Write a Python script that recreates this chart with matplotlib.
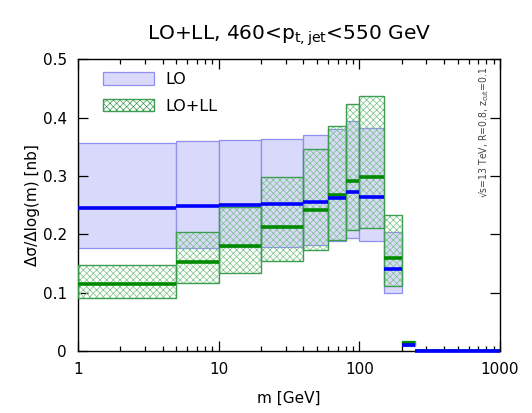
import numpy as np
import matplotlib
matplotlib.use("Agg")
import matplotlib.pyplot as plt
from matplotlib.patches import Patch
from matplotlib.ticker import FuncFormatter, LogLocator, MultipleLocator

# bin edges in m [GeV]
edges = [1, 5, 10, 20, 40, 60, 80, 100, 150, 200, 250, 1000]

# LO: central value and band
lo_mid = [0.246, 0.249, 0.250, 0.252, 0.256, 0.263, 0.273, 0.264, 0.140, 0.011, 0.0]
lo_lo = [0.176, 0.177, 0.178, 0.179, 0.181, 0.188, 0.194, 0.188, 0.099, 0.008, 0.0]
lo_hi = [0.357, 0.361, 0.362, 0.364, 0.371, 0.381, 0.395, 0.383, 0.204, 0.014, 0.0]

# LO+LL: central value and band
ll_mid = [0.115, 0.153, 0.180, 0.213, 0.242, 0.268, 0.292, 0.298, 0.159, 0.014, 0.0]
ll_lo = [0.091, 0.117, 0.134, 0.155, 0.174, 0.190, 0.207, 0.211, 0.112, 0.010, 0.0]
ll_hi = [0.148, 0.205, 0.247, 0.299, 0.347, 0.386, 0.424, 0.437, 0.234, 0.018, 0.0]

plt.rcParams['font.family'] = 'DejaVu Sans'
plt.rcParams['mathtext.fontset'] = 'dejavusans'
plt.rcParams['hatch.linewidth'] = 0.5

fig = plt.figure(figsize=(5.32, 4.13), dpi=100)
ax = fig.add_axes([0.1466, 0.150, 0.7932, 0.706])

left = np.array(edges[:-1], dtype=float)
right = np.array(edges[1:], dtype=float)
width = right - left

blue_face = '#d9d9fb'
blue_edge = '#8f8ff2'
green_edge = '#3c9c50'
green_hatch = '#78c283'

# LO bands
ax.bar(left, np.array(lo_hi) - np.array(lo_lo), width=width, bottom=lo_lo,
       align='edge', color=blue_face, edgecolor=blue_edge, linewidth=0.9, zorder=1)

# LO+LL hatched bands
ax.bar(left, np.array(ll_hi) - np.array(ll_lo), width=width, bottom=ll_lo,
       align='edge', facecolor='none', edgecolor=green_hatch, hatch='xxxxx',
       linewidth=0, zorder=2)
ax.bar(left, np.array(ll_hi) - np.array(ll_lo), width=width, bottom=ll_lo,
       align='edge', facecolor='none', edgecolor=green_edge, linewidth=1.0, zorder=3)

# central lines
ax.hlines(ll_mid, left, right, color='#008a00', linewidth=2.6, zorder=4)
ax.hlines(lo_mid, left, right, color='#0000ff', linewidth=2.6, zorder=5,
          clip_on=False)

ax.set_xscale('log')
ax.set_xlim(1, 1000)
ax.set_ylim(0, 0.5)

ax.xaxis.set_major_locator(LogLocator(base=10))
ax.xaxis.set_minor_locator(LogLocator(base=10, subs=np.arange(2, 10)))
ax.xaxis.set_major_formatter(FuncFormatter(lambda v, p: '%g' % v))
ax.xaxis.set_minor_formatter(FuncFormatter(lambda v, p: ''))
ax.yaxis.set_major_locator(MultipleLocator(0.1))
ax.yaxis.set_major_formatter(FuncFormatter(lambda v, p: '%g' % round(v, 2)))

ax.tick_params(which='both', direction='in', top=True, right=True,
               labelsize=11, width=0.9, colors='black')
ax.tick_params(which='major', length=7, pad=8)
ax.tick_params(which='minor', length=3.5)
for s in ax.spines.values():
    s.set_linewidth(1.0)

ax.set_xlabel('m [GeV]', fontsize=11, labelpad=10)
ax.set_ylabel('Δσ/Δlog(m) [nb]', fontsize=11, labelpad=2)
ax.set_title(r'LO+LL, 460<p$_{\mathregular{t,jet}}$<550 GeV', fontsize=14.5, pad=14)

ax.text(0.962, 0.975, r'√s=13 TeV, R=0.8, z$_{\mathregular{cut}}$=0.1',
        transform=ax.transAxes, rotation=90, ha='center', va='top',
        fontsize=7.5, stretch='condensed', color='#444444')

handles = [Patch(facecolor=blue_face, edgecolor=blue_edge, linewidth=0.9),
           Patch(facecolor='white', edgecolor=green_edge, hatch='xxxxx', linewidth=1.0)]
ax.legend(handles, ['LO', 'LO+LL'], loc='upper left', frameon=False, fontsize=11.5,
          handlelength=3.2, handleheight=0.85, handletextpad=0.7, labelspacing=0.7,
          bbox_to_anchor=(0.025, 1.005))

fig.savefig('out.png', dpi=100)
